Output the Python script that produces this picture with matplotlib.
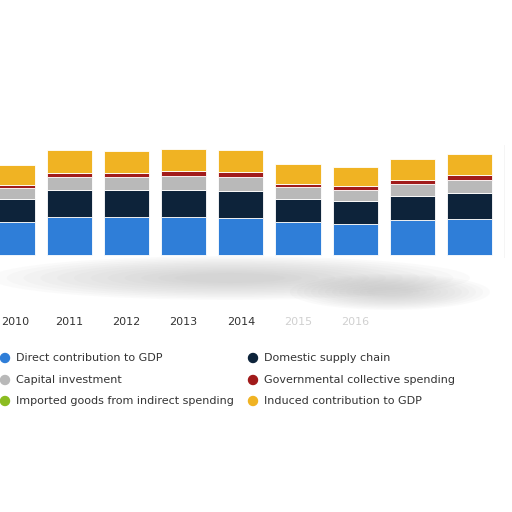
import matplotlib
matplotlib.use("Agg")
import matplotlib.pyplot as plt
from matplotlib.patches import Ellipse, Circle

years = ["2010","2011","2012","2013","2014","2015","2016","2017","2018"]
direct   = [33, 38, 38, 38, 37, 33, 31, 35, 36]
domestic = [23, 27, 27, 27, 27, 23, 23, 24, 26]
capital  = [11, 13, 13, 14, 14, 12, 11, 12, 13]
govt     = [3, 4, 4, 5, 5, 3, 4, 4, 5]
imported = [0.5, 0.5, 0.5, 0.5, 0.5, 0.5, 0.5, 0.5, 0.5]
induced  = [20, 23, 22, 22, 22, 20, 19, 21, 21]

series = [("Direct contribution to GDP", direct, "#2f7ed8"),
          ("Domestic supply chain", domestic, "#0d233a"),
          ("Capital investment", capital, "#b9b9b9"),
          ("Governmental collective spending", govt, "#a11b1b"),
          ("Imported goods from indirect spending", imported, "#8bbc21"),
          ("Induced contribution to GDP", induced, "#f0b323")]

fig = plt.figure(figsize=(5.12, 5.12), dpi=100)
ax = fig.add_axes([0, 0.496, 505/512, 113/512])
x = list(range(len(years)))
bottom = [0]*len(years)
for name, vals, c in series:
    ax.bar(x, vals, 0.79, bottom=bottom, color=c, edgecolor="white", linewidth=0.6)
    bottom = [b+v for b, v in zip(bottom, vals)]
ax.set_xlim(-0.21, 8.62)
ax.set_ylim(-3, 110)
ax.axis("off")
ax.plot([1, 1], [0, 1], transform=ax.transAxes, color="#cccccc", lw=1)

bg = fig.add_axes([0, 0, 1, 1], zorder=-1)
bg.set_xlim(0, 512); bg.set_ylim(512, 0); bg.axis("off")
for k in range(12):
    s = 1 - k*0.07
    for cx, cy, w, h in [(230, 278, 480, 44), (390, 292, 200, 36)]:
        bg.add_patch(Ellipse((cx, cy), w*s, h*s, color="#b0b0b0", alpha=0.05, lw=0))

for i, y in enumerate(years):
    if i >= 7:
        continue
    col = "#333333" if i < 5 else "#d0d0d0"
    if i == 0:
        fig.text(1/512, 1-322/512, y, ha="left", va="center", fontsize=8, color=col)
    else:
        fig.text((12 + 57.2*i)/512, 1-322/512, y, ha="center", va="center", fontsize=8, color=col)

leg = [(0, 358, series[0]), (248, 358, series[1]), (0, 380, series[2]),
       (248, 380, series[3]), (0, 401, series[4]), (248, 401, series[5])]
for lx, ly, (name, _, c) in leg:
    bg.add_patch(Circle((lx+5, ly), 4.5, color=c))
    fig.text((lx+16)/512, 1-ly/512, name, fontsize=8, color="#333333", va="center")

fig.savefig("out.png", dpi=100)
